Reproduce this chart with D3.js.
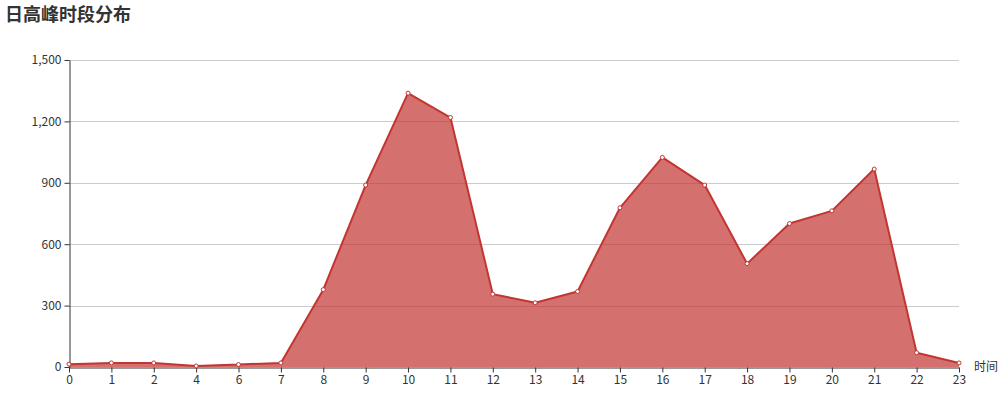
<!DOCTYPE html>
<html><head><meta charset="utf-8">
<script src="https://cdn.jsdelivr.net/npm/d3@7"></script>
<style>body{margin:0;background:#fff}svg{display:block}</style>
</head><body>
<svg id="chart" width="1000" height="400"></svg>
<script>
const title = "日高峰时段分布";
const xAxisName = "时间";
const hours = ["0","1","2","4","6","7","8","9","10","11","12","13","14","15","16","17","18","19","20","21","22","23"];
const counts = [14,20,20,5,12,20,378,889,1338,1219,356,314,369,778,1024,889,505,701,763,967,70,20];
const yTicks = [0,300,600,900,1200,1500];

const svg = d3.select("#chart");
const font = "'Noto Sans CJK SC','Noto Sans',sans-serif";
const m = {left:69, right:41, top:60, bottom:33};
const W = 1000, H = 400;
const x = d3.scalePoint().domain(hours).range([m.left, W - m.right]);
const y = d3.scaleLinear().domain([0,1500]).range([H - m.bottom, m.top]);

svg.append("text").attr("x",5).attr("y",21).attr("font-family",font)
  .attr("font-size",18).attr("font-weight","bold").attr("fill","#333").text(title);

// gridlines
svg.append("g").selectAll("line").data(yTicks.filter(d=>d>0)).join("line")
  .attr("x1",m.left).attr("x2",W-m.right)
  .attr("y1",d=>Math.round(y(d))+0.5).attr("y2",d=>Math.round(y(d))+0.5)
  .attr("stroke","#ccc").attr("stroke-width",1);

const data = hours.map((h,i)=>({h, v:counts[i]}));
const area = d3.area().x(d=>x(d.h)).y0(y(0)).y1(d=>y(d.v));
const line = d3.line().x(d=>x(d.h)).y(d=>y(d.v));
svg.append("path").datum(data).attr("d",area).attr("fill","#c23531").attr("fill-opacity",0.7);
svg.append("path").datum(data).attr("d",line).attr("fill","none").attr("stroke","#c23531").attr("stroke-width",2).attr("stroke-linejoin","bevel");

// y axis
const ya = svg.append("g").attr("transform",`translate(${m.left+0.5},0)`)
  .call(d3.axisLeft(y).tickValues(yTicks).tickFormat(d3.format(",")).tickSize(5).tickSizeOuter(0));
ya.select(".domain").attr("stroke","#333");
ya.selectAll(".tick line").attr("stroke","#333");
ya.selectAll(".tick text").attr("fill","#333").attr("font-size",12).attr("font-family",font).attr("x",-8);

// x axis
const xa = svg.append("g").attr("transform",`translate(0,${y(0)+0.5})`)
  .call(d3.axisBottom(x).tickSize(5).tickSizeOuter(0));
xa.select(".domain").attr("stroke","#333");
xa.selectAll(".tick line").attr("stroke","#333");
xa.selectAll(".tick text").attr("fill","#333").attr("font-size",12).attr("font-family",font).attr("y",8);

svg.append("text").attr("x",W-m.right+15).attr("y",y(0)).attr("dy","0.35em")
  .attr("font-size",12).attr("font-family",font).attr("fill","#333").text(xAxisName);

// symbols
svg.append("g").selectAll("circle").data(data).join("circle")
  .attr("cx",d=>x(d.h)).attr("cy",d=>y(d.v)).attr("r",2)
  .attr("fill","#fff").attr("stroke","#c23531").attr("stroke-width",1);
</script>
</body></html>
